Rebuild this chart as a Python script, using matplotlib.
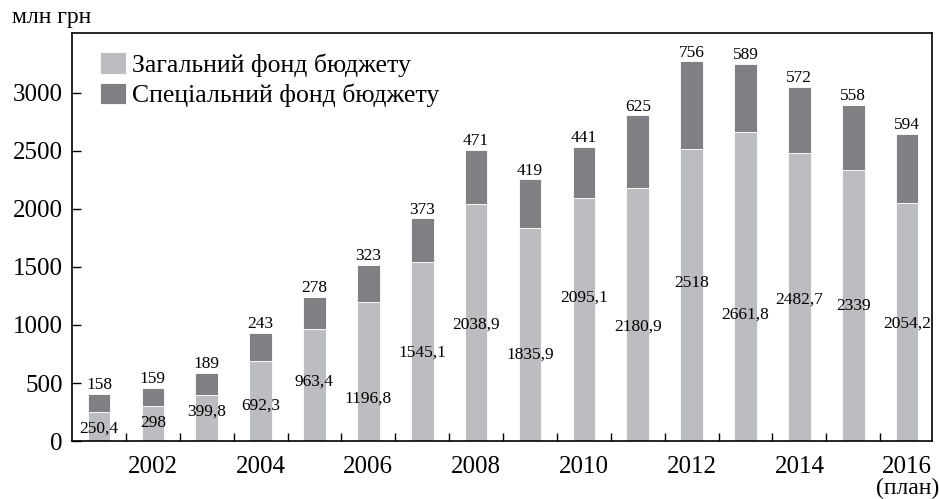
import matplotlib
matplotlib.use("Agg")
import matplotlib.pyplot as plt
import matplotlib.transforms as mtransforms
import numpy as np

plt.rcParams['font.family'] = ['Liberation Serif', 'DejaVu Serif']

# --- data ---
years = np.arange(2001, 2017)
general_fund = [250.4, 298, 399.8, 692.3, 963.4, 1196.8, 1545.1, 2038.9,
                1835.9, 2095.1, 2180.9, 2518, 2661.8, 2482.7, 2339, 2054.2]
special_fund = [158, 159, 189, 243, 278, 323, 373, 471,
                419, 441, 625, 756, 589, 572, 558, 594]
# where the inner (general fund) numbers sit, as in the original
inner_label_y = [103, 155, 250, 302, 509, 362, 759, 1000,
                 741, 1233, 983, 1362, 1086, 1216, 1164, 1009]
year_labels = [str(y) for y in years[1::2]]

light = '#bcbdc1'
dark = '#808084'

fig = plt.figure(figsize=(9.39, 4.99), dpi=100)
ax = fig.add_axes([0.0767, 0.1162, 0.9158, 0.8177])

w = 0.42
ax.bar(years, general_fund, width=w, color=light, edgecolor='white',
       linewidth=0.6, label='Загальний фонд бюджету')
ax.bar(years, special_fund, width=w, bottom=general_fund, color=dark,
       edgecolor='white', linewidth=0.6, label='Спеціальний фонд бюджету')

# --- value labels ---
fmt = lambda v: (f'{v:g}').replace('.', ',')
for x, g, s, ly in zip(years, general_fund, special_fund, inner_label_y):
    ax.text(x, g + s + 40, fmt(s), ha='center', va='baseline', fontsize=12.5)
    ax.text(x, ly, fmt(g), ha='center', va='center', fontsize=12.5)

ax.set_xlim(2000.5, 2016.46)
ax.set_ylim(0, 3517)

# --- ticks ---
ax.set_xticks(years[1::2])
ax.set_xticklabels(year_labels)
ax.set_xticks(years[:-1] + 0.5, minor=True)
ax.tick_params(axis='x', which='major', length=0, pad=11, labelsize=18)
ax.tick_params(axis='x', which='minor', direction='in', length=6, width=1)
ax.set_yticks([0, 500, 1000, 1500, 2000, 2500, 3000])
ax.tick_params(axis='y', direction='in', length=6.5, width=1, pad=6.5,
               labelsize=18)

for sp in ax.spines.values():
    sp.set_linewidth(1.2)

trans = mtransforms.blended_transform_factory(ax.transData, fig.transFigure)
ax.text(2016, 0.022, '(план)', transform=trans, ha='center', va='center',
        fontsize=17)
fig.text(0.013, 0.964, 'млн грн', ha='left', va='center', fontsize=17)

ax.legend(loc='upper left', bbox_to_anchor=(0.015, 0.99), frameon=False,
          fontsize=18.5, handlelength=1.0, handleheight=0.9,
          handletextpad=0.25, labelspacing=0.22, borderaxespad=0.2)

fig.savefig('out.png', dpi=100)
